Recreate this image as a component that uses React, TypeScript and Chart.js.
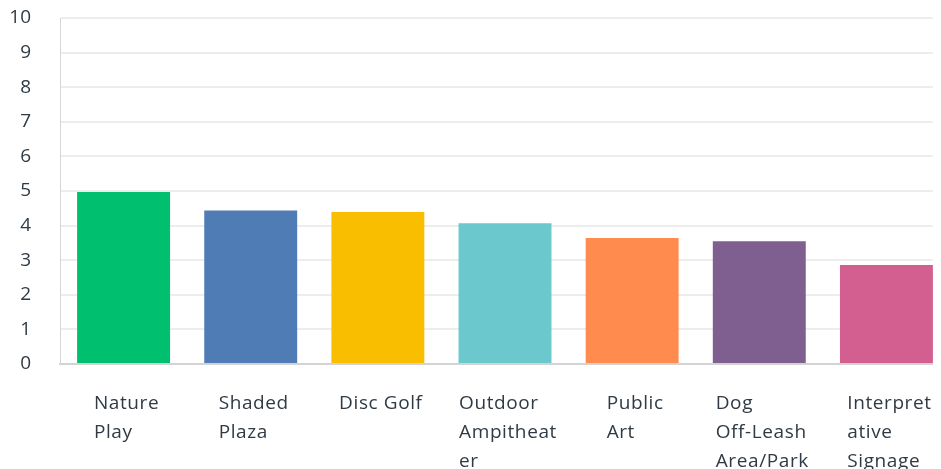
import React, { useEffect, useRef } from "react";
import { Chart, registerables } from "chart.js";

Chart.register(...registerables);

const categories: string[][] = [
  ["Nature", "Play"],
  ["Shaded", "Plaza"],
  ["Disc Golf"],
  ["Outdoor", "Ampitheat", "er"],
  ["Public", "Art"],
  ["Dog", "Off-Leash", "Area/Park"],
  ["Interpret", "ative", "Signage"],
];
const values: number[] = [4.97, 4.44, 4.39, 4.07, 3.64, 3.55, 2.86];
const barColors: string[] = ["#00bf6f", "#507cb6", "#f9be00", "#6bc8cd", "#ff8b4f", "#7f5e90", "#d25f90"];
const yTicks: number[] = [0, 1, 2, 3, 4, 5, 6, 7, 8, 9, 10];

const TEXT = "#2f3a44";
const FONT = "'Open Sans', 'Noto Sans', sans-serif";

const xLabelPlugin = {
  id: "xLabelPlugin",
  afterDraw(chart: any) {
    const xs = chart.scales.x;
    const ctx = chart.ctx as CanvasRenderingContext2D;
    ctx.save();
    ctx.font = `19px ${FONT}`;
    (ctx as any).letterSpacing = "0.6px";
    ctx.fillStyle = TEXT;
    ctx.textAlign = "left";
    ctx.textBaseline = "alphabetic";
    const base = chart.chartArea.bottom + 45;
    categories.forEach((lines, i) => {
      const cx = xs.getPixelForTick(i);
      const maxW = Math.max(...lines.map((l) => ctx.measureText(l).width));
      const sx = cx - maxW / 2 + 3;
      lines.forEach((l, k) => ctx.fillText(l, sx, base + k * 29));
    });
    ctx.restore();
  },
};

export default function App() {
  const ref = useRef<HTMLCanvasElement>(null);
  useEffect(() => {
    document.documentElement.style.overflow = "hidden";
    const chart = new Chart(ref.current!, {
      type: "bar",
      data: {
        labels: categories.map((c) => c.join(" ")),
        datasets: [
          {
            data: values,
            backgroundColor: barColors,
            borderWidth: 0,
            barPercentage: 0.731,
            categoryPercentage: 1,
          },
        ],
      },
      options: {
        animation: false,
        responsive: true,
        maintainAspectRatio: false,
        layout: { padding: { top: 0, left: 0, right: 0, bottom: 0 } },
        plugins: { legend: { display: false }, tooltip: { enabled: false } },
        scales: {
          x: {
            grid: { display: false, drawTicks: false },
            border: { display: true, color: "#d3d3d3", width: 2 },
            ticks: { display: false },
            afterFit: (s: any) => {
              s.height = 114;
              s.paddingLeft = 0;
              s.paddingRight = 0;
            },
          },
          y: {
            min: 0,
            max: 10,
            afterBuildTicks: (s: any) => {
              s.ticks = yTicks.map((v) => ({ value: v }));
            },
            grid: { color: "#ededed", lineWidth: 2, drawTicks: false },
            border: { display: true, color: "#d6d6d6", width: 1 },
            ticks: {
              padding: 29,
              color: TEXT,
              font: { family: FONT, size: 19, lineHeight: 1.1 },
            },
            afterFit: (s: any) => {
              s.width = 52;
              s.paddingTop = 10;
              s.paddingBottom = 0;
            },
          },
        },
      },
      plugins: [xLabelPlugin],
    });
    return () => chart.destroy();
  }, []);
  return (
    <div style={{ width: 933, height: 461, overflow: "hidden" }}>
      <div style={{ width: 942, height: 470, position: "relative" }}>
        <canvas ref={ref} />
      </div>
    </div>
  );
}
